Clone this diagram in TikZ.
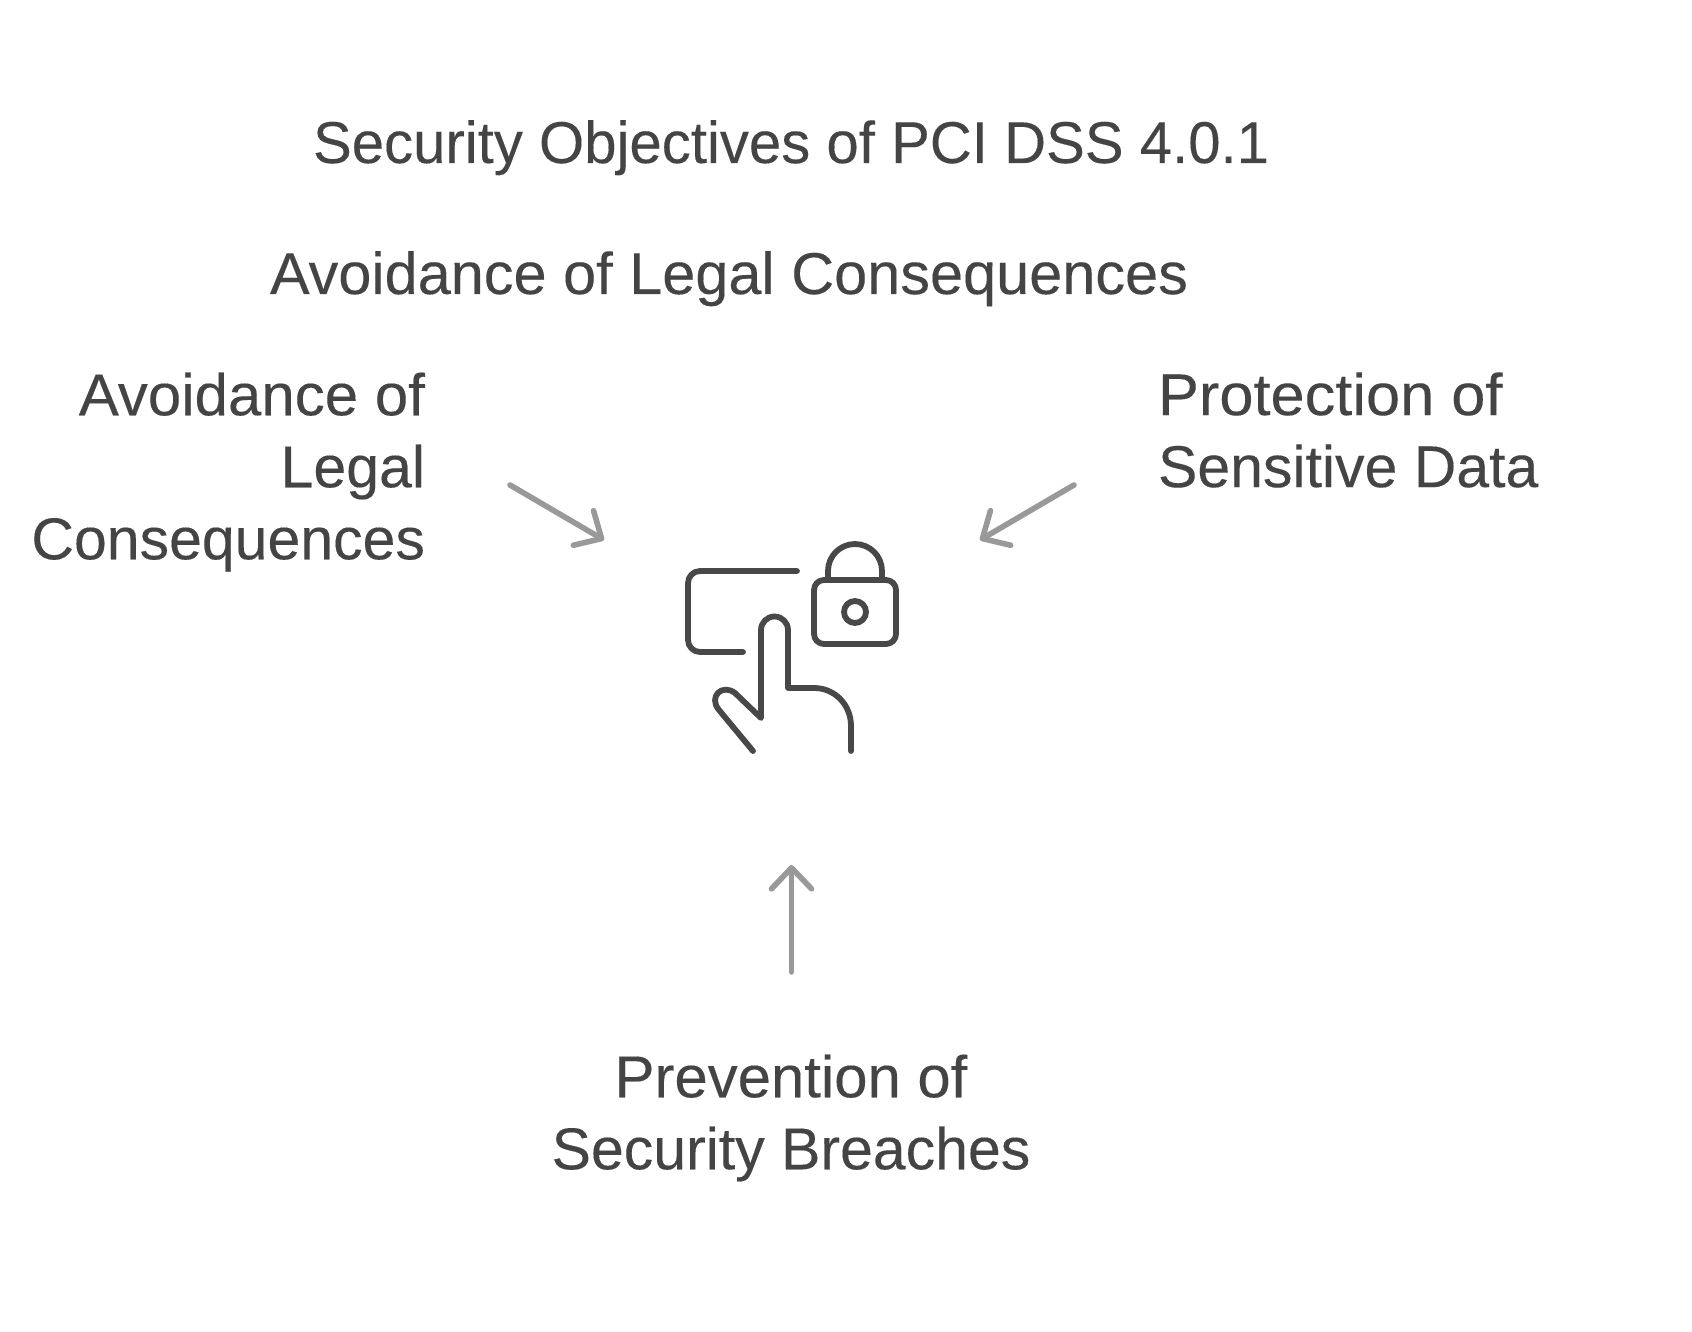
\documentclass[tikz,border=0pt]{standalone}
\usepackage{fontspec}
\setmainfont{Liberation Sans}[FakeBold=0.2]
\usetikzlibrary{arrows.meta}
\definecolor{txt}{HTML}{444444}
\definecolor{ico}{HTML}{484848}
\definecolor{arr}{HTML}{999999}
\newcommand{\stretched}[2]{{\addfontfeature{FakeStretch=#1}#2}}
\tikzset{
  label text/.style={text=txt,font=\fontsize{59}{72}\selectfont,inner sep=0pt,outer sep=0pt},
  pointer/.style={draw=arr,line width=5.6pt,line cap=round,line join=round,-{Straight Barb[length=21pt,width=40pt,round]}},
  icon line/.style={draw=ico,line width=5.8pt,line cap=round,line join=round}
}
\begin{document}
\begin{tikzpicture}[x=1pt,y=-1pt]
\useasboundingbox[fill=white] (0,0) rectangle (1692,1332);
\node[label text,anchor=base west] (title) at (313,163) {\stretched{0.985}{Security Objectives of PCI DSS 4.0.1}};
\node[label text,anchor=base west] (legal) at (270,294) {\stretched{1.008}{Avoidance of Legal Consequences}};
\node[label text,anchor=east,align=right] (left) at (425,472) {\stretched{1.018}{Avoidance of}\\Legal\\Consequences};
\node[label text,anchor=west,align=left] (right) at (1158,430) {\stretched{1.04}{Protection of}\\Sensitive Data};
\node[label text,anchor=center,align=center] (bottom) at (791,1118) {\stretched{1.015}{Prevention of}\\Security Breaches};
\coordinate (la) at (510,485); \coordinate (lb) at (604,540);
\coordinate (ra) at (1074,485); \coordinate (rb) at (980,540);
\coordinate (ba) at (791.5,972); \coordinate (bb) at (791.5,865);
\draw[pointer] (la) -- (lb);
\draw[pointer] (ra) -- (rb);
\draw[pointer] (ba) -- (bb);
% icon
\draw[icon line,rounded corners=12pt] (797,571) -- (688,571) -- (688,652) -- (743,652);
\draw[icon line,rounded corners=10pt] (814,580) rectangle (896,644);
\draw[icon line] (828,580) -- (828,571) arc[start angle=180,end angle=0,x radius=27,y radius=-27] -- (882,580);
\draw[icon line] (855,612) circle[radius=11];
\draw[icon line] (753,751) -- (719,710) .. controls (708,697) and (722,683) .. (735,693) -- (761,718) -- (761,630) arc[start angle=180,end angle=0,x radius=13.5,y radius=-13.5] -- (788,688) -- (814,688) .. controls (835,688) and (851,705) .. (851,726) -- (851,751);
\end{tikzpicture}
\end{document}
